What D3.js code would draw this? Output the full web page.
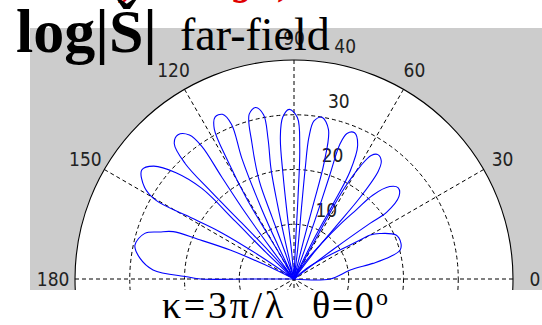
<!DOCTYPE html>
<html>
<head>
<meta charset="utf-8">
<script src="https://cdn.jsdelivr.net/npm/d3@7"></script>
<style>
  html, body { margin: 0; padding: 0; background: #fff; }
  svg { display: block; }
</style>
</head>
<body>
<svg id="chart" width="542" height="325"></svg>
<script>
// Polar grid ticks
const angleTicks = [0, 30, 60, 90, 120, 150, 180];
const spokeAngles = [0, 30, 60, 90, 120, 150];
const radialTicks = [10, 20, 30, 40];
const rMax = 40;

// Far-field pattern, traced lobe by lobe as [angle in degrees, log|S|]
const lobe01 = [[0,0],[0,6.6],[9,10.4],[11.2,14.7],[13,18.0],[15.3,20.1],[18.6,20.6],[23.3,20.3],[28,17.7],[30,16.1],[30.7,13.3],[32.2,9.9],[35,6.6],[40,3.0],[45,0]];
const lobe02 = [[37,0],[37,9.1],[36.2,17.2],[35.8,20.9],[38.2,24.4],[41.2,25.3],[44,24.3],[46.8,21.0],[48,17.0],[49.8,13.0],[52,8.6],[56,4.2],[56,0]];
const lobe03 = [[53,0],[53,6],[51.5,12],[51,19.5],[52,25],[53.5,26.8],[56,27.4],[58,26.6],[59.5,24],[61,19],[61.5,13],[61.5,7],[61,0]];
const lobe04 = [[64,0],[63.5,8],[62.5,15],[62.5,22.2],[64.5,27],[67.5,28.9],[70,28.3],[71.2,26],[71,20],[70.5,13],[70,6],[69,0]];
const lobe05 = [[76,0],[76,7],[75.5,14],[75.5,22],[77,28],[80.2,30.0],[82.8,29.1],[84,26],[84.2,20],[84,13],[83,6],[82,0]];
const lobe06 = [[87,0],[87.5,7],[87.2,15],[87.5,24],[88.8,29.5],[91.6,31.0],[94,29.6],[95.5,26],[96,19],[96,12],[95,5],[94,0]];
const lobe07 = [[103,0],[103,8],[102.5,14],[101.8,20.5],[100.5,26],[100.5,30.5],[102.6,32.1],[105.2,31.2],[107.2,26],[109.5,19],[109.5,12],[108.5,5],[108,0]];
const lobe08 = [[115,0],[115.5,7],[114.8,14],[113.4,23.9],[112,30.5],[113.5,32.8],[116,32.9],[118,31],[119.3,24.7],[120.5,17],[120.5,10],[119.5,4],[119,0]];
const lobe09 = [[127,0],[127,7],[126.3,15],[125.3,23],[124.8,29.5],[126,32.5],[128.8,33.8],[131.5,33],[133.3,29],[133.5,22],[133,14],[132,7],[131,0]];
const lobe10 = [[137,0],[136.5,7],[135.5,15],[135.5,23.6],[138,29],[141.2,32.9],[144.4,34.2],[148.5,32.0],[150.3,29],[149.5,23],[147.5,16],[146,8],[145,0]];
const lobe11 = [[154,0],[154,6],[155.6,12.8],[157.5,19],[158.6,23.7],[160.7,26.0],[163,28.5],[168,29.7],[172.3,28.4],[176.3,25.8],[178.8,19.6],[180,17.0],[180,8],[180,0]];
const lobes = [lobe01, lobe02, lobe03, lobe04, lobe05, lobe06, lobe07, lobe08, lobe09, lobe10, lobe11];

// Layout
const cx = 294, cy = 279, R = 219;
const frame = { x: 30, y: 28, w: 512, h: 262 };

const svg = d3.select('#chart');
const rad = d => d * Math.PI / 180;
const r = d3.scaleLinear().domain([0, rMax]).range([0, R]);
// polar angle (ccw from +x) -> d3 radial angle (cw from 12 o'clock)
const a = d3.scaleLinear().domain([0, 360]).range([Math.PI / 2, Math.PI / 2 - 2 * Math.PI]);

// Figure background
svg.append('rect')
  .attr('x', frame.x).attr('y', frame.y)
  .attr('width', frame.w).attr('height', frame.h)
  .attr('fill', '#cccccc');

svg.append('defs').append('clipPath').attr('id', 'frameClip')
  .append('rect')
  .attr('x', frame.x).attr('y', frame.y)
  .attr('width', frame.w).attr('height', frame.h);

const plot = svg.append('g').attr('clip-path', 'url(#frameClip)')
  .append('g').attr('transform', `translate(${cx},${cy})`);

// White polar disk
plot.append('circle').attr('r', r(rMax)).attr('fill', '#fff');

// Dashed inner rings
plot.selectAll('circle.ring')
  .data(radialTicks.filter(t => t < rMax))
  .join('circle')
  .attr('class', 'ring')
  .attr('r', d => r(d))
  .attr('fill', 'none')
  .attr('stroke', '#000')
  .attr('stroke-width', 1)
  .attr('stroke-dasharray', '4,3');

// Dashed spokes (full diameters)
plot.selectAll('line.spoke')
  .data(spokeAngles)
  .join('line')
  .attr('class', 'spoke')
  .attr('x1', d => -r(rMax) * Math.cos(rad(d)))
  .attr('y1', d => r(rMax) * Math.sin(rad(d)))
  .attr('x2', d => r(rMax) * Math.cos(rad(d)))
  .attr('y2', d => -r(rMax) * Math.sin(rad(d)))
  .attr('stroke', '#000')
  .attr('stroke-width', 1)
  .attr('stroke-dasharray', '4,3');

// Solid outer circle
plot.append('circle')
  .attr('r', r(rMax))
  .attr('fill', 'none')
  .attr('stroke', '#000')
  .attr('stroke-width', 1.1);

// Tick labels
const labels = svg.append('g').attr('transform', `translate(${cx},${cy})`)
  .attr('font-family', '"Liberation Sans Narrow", "DejaVu Sans Condensed", "Liberation Sans", sans-serif')
  .attr('font-size', 19)
  .attr('fill', '#222');

labels.selectAll('text.ang')
  .data(angleTicks)
  .join('text')
  .attr('class', 'ang')
  .attr('x', d => 1.1 * r(rMax) * Math.cos(rad(d)))
  .attr('y', d => -1.1 * r(rMax) * Math.sin(rad(d)))
  .attr('text-anchor', 'middle')
  .attr('dominant-baseline', 'central')
  .text(d => d);

const radialLabelAngle = 83.4;
labels.selectAll('text.rad')
  .data(radialTicks)
  .join('text')
  .attr('class', 'rad')
  .attr('x', d => r(d) * Math.cos(rad(radialLabelAngle)) + 26)
  .attr('y', d => -r(d) * Math.sin(rad(radialLabelAngle)) - 15)
  .attr('text-anchor', 'middle')
  .attr('dominant-baseline', 'central')
  .text(d => d);

// Pattern curve
const line = d3.lineRadial()
  .angle(d => a(d[0]))
  .radius(d => r(d[1]))
  .curve(d3.curveCatmullRom.alpha(0.5));

svg.append('g').attr('transform', `translate(${cx},${cy})`)
  .selectAll('path.lobe')
  .data(lobes)
  .join('path')
  .attr('class', 'lobe')
  .attr('d', line)
  .attr('fill', 'none')
  .attr('stroke', '#0000ff')
  .attr('stroke-width', 1.1);

// Headings
const serif = '"Liberation Serif", "Times New Roman", serif';

const red = svg.append('g')
  .attr('font-family', serif)
  .attr('font-weight', 'bold')
  .attr('font-style', 'italic')
  .attr('font-size', 40)
  .attr('fill', '#e00000');
red.append('text').attr('x', 140).attr('y', -6).attr('text-anchor', 'end').text('Array');
red.append('text').attr('x', 254).attr('y', -6).attr('text-anchor', 'end').text('in log');
red.append('text').attr('x', 281).attr('y', -6).text(')');

svg.append('text')
  .attr('x', 16).attr('y', 52)
  .attr('font-family', serif)
  .attr('font-weight', 'bold')
  .attr('font-size', 62)
  .attr('fill', '#000')
  .text('log|Š|');

svg.append('text')
  .attr('x', 180).attr('y', 50)
  .attr('font-family', serif)
  .attr('font-size', 46)
  .attr('fill', '#000')
  .text('far-field');

const caption = svg.append('g')
  .attr('font-family', serif)
  .attr('fill', '#000');
caption.append('text').attr('x', 162).attr('y', 318).attr('font-size', 38)
  .attr('letter-spacing', 2.7).text('κ=3π/λ');
caption.append('text').attr('x', 312).attr('y', 318).attr('font-size', 38)
  .attr('letter-spacing', 1.5).text('θ=0');
caption.append('text').attr('x', 376).attr('y', 305).attr('font-size', 24).text('o');
</script>
</body>
</html>
